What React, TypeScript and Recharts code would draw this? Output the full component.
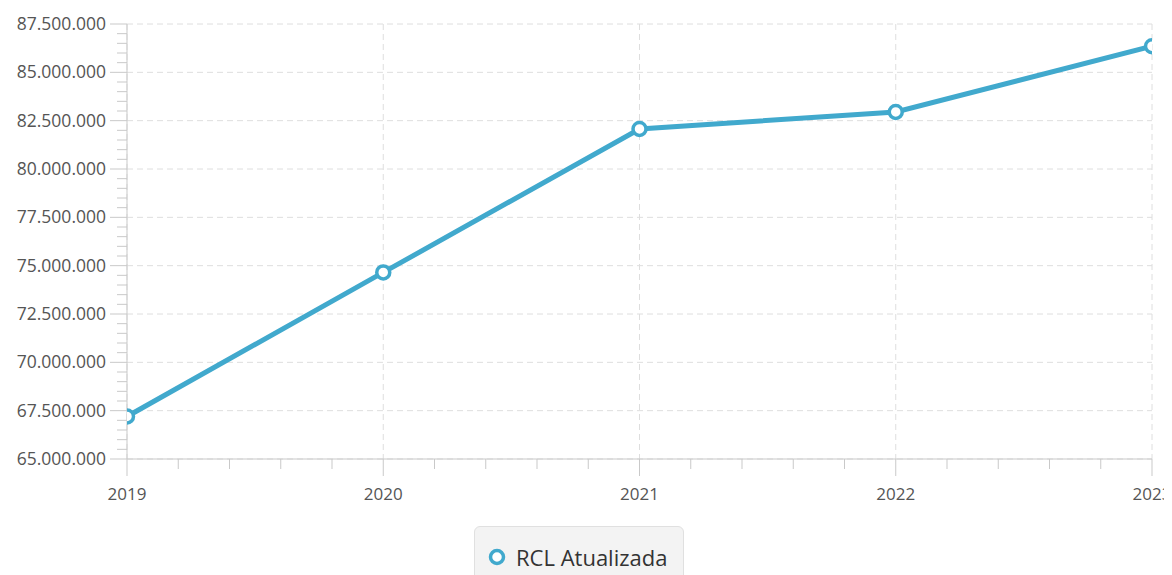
import { LineChart, Line, XAxis, YAxis, CartesianGrid, Legend } from 'recharts';

const years = [2019, 2020, 2021, 2022, 2023];
const rclValues = [67200000, 74650000, 82070000, 82950000, 86350000];

const yTicks = [65000000, 67500000, 70000000, 72500000, 75000000, 77500000, 80000000, 82500000, 85000000, 87500000];
// major + minor positions for the tick marks (5 subdivisions per major step)
const yAllTicks = Array.from({ length: 46 }, (_, i) => 65000000 + i * 500000);
const xAllTicks = Array.from({ length: 21 }, (_, i) => 2019 + i * 0.2);

const data = years.map((year, i) => ({ year, rcl: rclValues[i] }));

const LINE_COLOR = '#41a9cd';
const AXIS_COLOR = '#c9c9c9';
const TEXT_COLOR = '#555';
const FONT = '"Open Sans", sans-serif';

const formatBR = (v: number) => Math.round(v).toString().replace(/\B(?=(\d{3})+(?!\d))/g, '.');

const TICK_SIZE = 17;
const MINOR_SIZE = 10;
const Y_MARGIN = 4;
const X_MARGIN = 12;

const YTick = (props: any) => {
  const { x, y, payload } = props;
  const v = payload.value;
  const major = yTicks.includes(v);
  const axisX = x + TICK_SIZE + Y_MARGIN;
  return (
    <g>
      <line x1={axisX - (major ? TICK_SIZE : MINOR_SIZE)} x2={axisX} y1={y} y2={y} stroke={AXIS_COLOR} />
      {major && (
        <text x={x} y={y} dy="0.35em" textAnchor="end" fill={TEXT_COLOR} fontSize={17.5} fontFamily={FONT}>
          {formatBR(v)}
        </text>
      )}
    </g>
  );
};

const XTick = (props: any) => {
  const { x, y, payload } = props;
  const v = payload.value;
  const major = Math.abs(v - Math.round(v)) < 1e-6;
  const axisY = y - TICK_SIZE - X_MARGIN;
  return (
    <g>
      <line x1={x} x2={x} y1={axisY} y2={axisY + (major ? TICK_SIZE : MINOR_SIZE)} stroke={AXIS_COLOR} />
      {major && (
        <text x={x} y={y} dy="0.71em" textAnchor="middle" fill={TEXT_COLOR} fontSize={17} fontFamily={FONT}>
          {Math.round(v)}
        </text>
      )}
    </g>
  );
};

const renderLegend = () => (
  <div
    style={{
      boxSizing: 'border-box',
      height: 60,
      width: 210,
      background: '#f3f3f3',
      border: '1px solid #e0e0e0',
      borderRadius: 6,
      display: 'flex',
      alignItems: 'flex-start',
      paddingTop: 16,
      paddingLeft: 12,
      fontFamily: FONT,
      fontSize: 22,
      color: '#333',
    }}
  >
    <svg width={20} height={20} style={{ marginRight: 9, marginTop: 4 }}>
      <circle cx={10} cy={10} r={6.5} fill="#fff" stroke={LINE_COLOR} strokeWidth={3.5} />
    </svg>
    <span style={{ lineHeight: '28px' }}>RCL Atualizada</span>
  </div>
);

export default function App() {
  return (
    <div style={{ width: 1164, height: 567 }}>
      <LineChart width={1164} height={567} data={data} margin={{ top: 16, right: 20, bottom: 0, left: 0 }}>
        <CartesianGrid stroke="#dedede" strokeDasharray="6 4" horizontalValues={yTicks} verticalValues={years} />
        <XAxis
          dataKey="year"
          type="number"
          domain={[2019, 2023]}
          ticks={xAllTicks}
          interval={0}
          height={56}
          tickSize={TICK_SIZE}
          tickMargin={X_MARGIN}
          axisLine={{ stroke: AXIS_COLOR }}
          tickLine={false}
          tick={<XTick />}
          allowDataOverflow
        />
        <YAxis
          type="number"
          domain={[65000000, 87500000]}
          ticks={yAllTicks}
          interval={0}
          width={119}
          tickSize={TICK_SIZE}
          tickMargin={Y_MARGIN}
          axisLine={{ stroke: AXIS_COLOR }}
          tickLine={false}
          tick={<YTick />}
          allowDataOverflow
        />
        <Legend
          verticalAlign="bottom"
          content={renderLegend}
          wrapperStyle={{ left: 466, top: 518, bottom: 'auto', width: 210, height: 60 }}
        />
        <Line
          type="linear"
          dataKey="rcl"
          name="RCL Atualizada"
          stroke={LINE_COLOR}
          strokeWidth={5}
          dot={{ r: 6.5, fill: '#fff', stroke: LINE_COLOR, strokeWidth: 3.5 }}
          isAnimationActive={false}
        />
      </LineChart>
    </div>
  );
}
